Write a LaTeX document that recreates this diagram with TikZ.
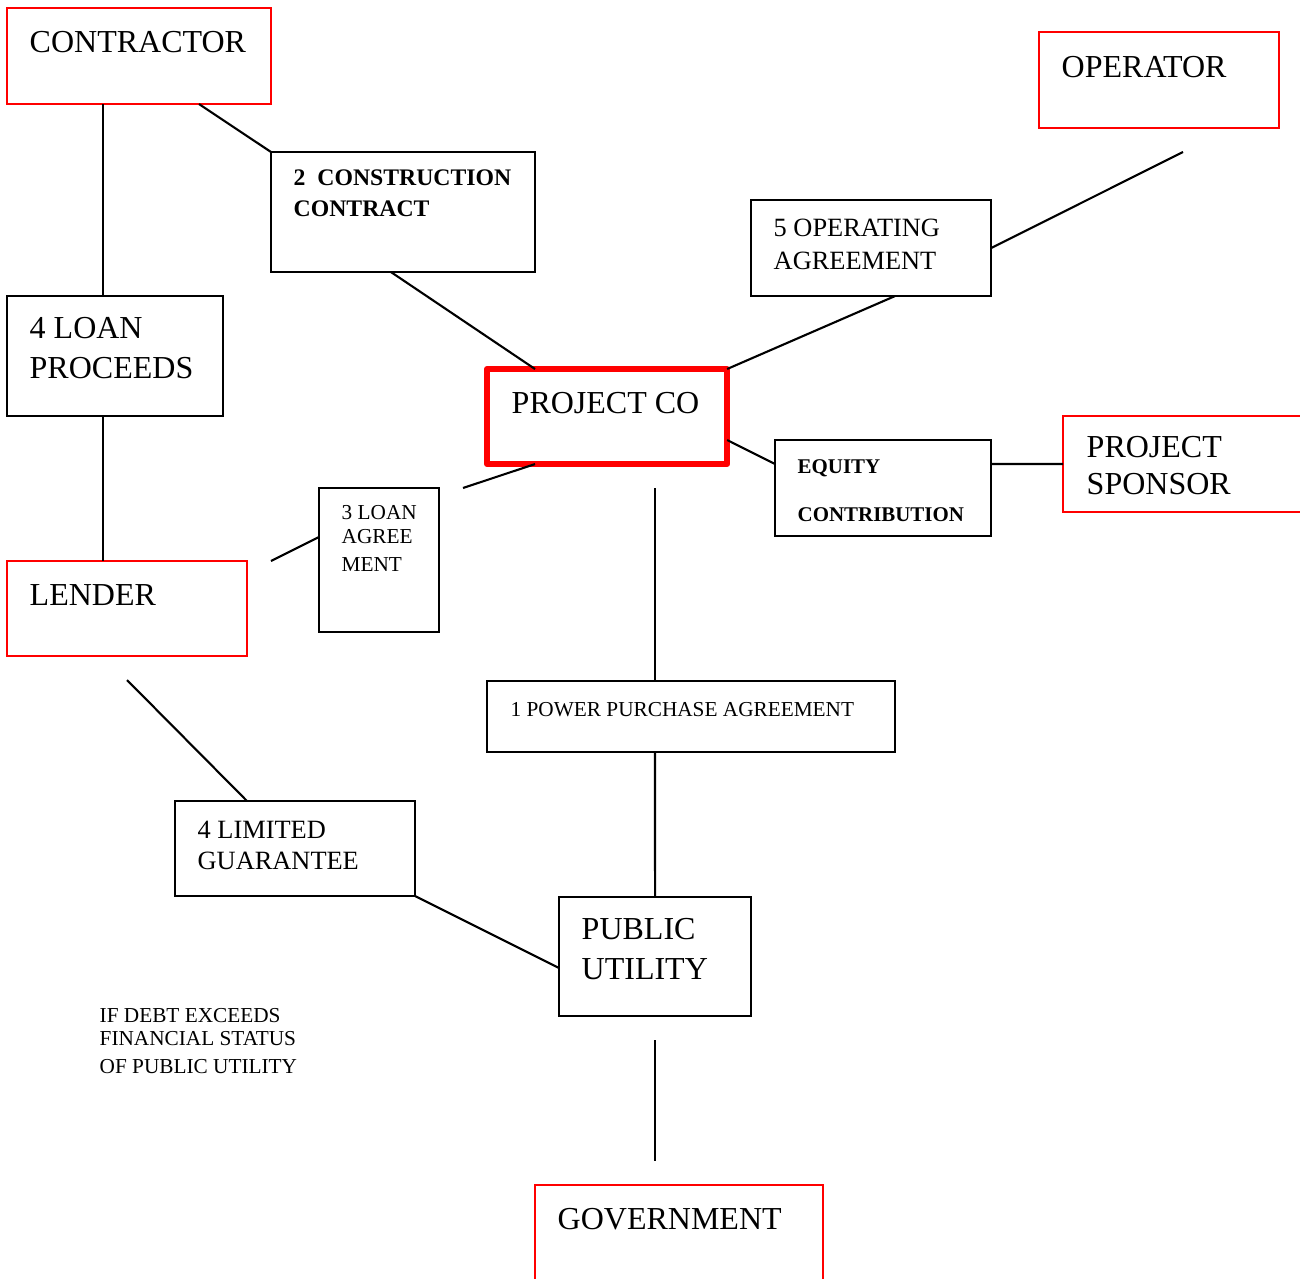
\documentclass[tikz,border=0pt]{standalone}
\usepackage{fontspec}
\setmainfont{Liberation Serif}
\usetikzlibrary{calc}
\definecolor{boxred}{RGB}{255,0,0}
\begin{document}
\begin{tikzpicture}[x=0.01cm,y=-0.01cm,
  redbox/.style={draw=boxred, line width=0.6pt, rectangle, inner sep=0pt, outer sep=0pt, anchor=north west},
  blackbox/.style={draw=black, line width=0.6pt, rectangle, inner sep=0pt, outer sep=0pt, anchor=north west},
  mainbox/.style={draw=boxred, line width=1.7pt, line join=round, rectangle, inner sep=0pt, outer sep=0pt, anchor=north west},
  conn/.style={draw=black, line width=0.6pt},
  txt/.style={anchor=base west, inner sep=0pt},
  big/.style={txt, font=\fontsize{9.1}{11}\selectfont},
  med/.style={txt, font=\fontsize{7.5}{9}\selectfont},
  small/.style={txt, font=\fontsize{6.05}{7}\selectfont},
  boldA/.style={txt, font=\fontsize{6.75}{8}\selectfont\bfseries},
  boldB/.style={txt, font=\fontsize{5.95}{7}\selectfont\bfseries},
]
\useasboundingbox (0,0) rectangle (1300,1278);

% boxes
\node[redbox, minimum width=2.64cm, minimum height=0.96cm] (contractor) at (7,8) {};
\node[redbox, minimum width=2.40cm, minimum height=0.96cm] (operator) at (1039,32) {};
\node[blackbox, minimum width=2.64cm, minimum height=1.20cm] (constr) at (271,152) {};
\node[blackbox, minimum width=2.40cm, minimum height=0.96cm] (opagr) at (751,200) {};
\node[blackbox, minimum width=2.16cm, minimum height=1.20cm] (loanproc) at (7,296) {};
\node[mainbox, minimum width=2.40cm, minimum height=0.95cm] (projco) at (487,369) {};
\node[blackbox, minimum width=2.16cm, minimum height=0.96cm] (equity) at (775,440) {};
\node[redbox, minimum width=2.60cm, minimum height=0.96cm] (sponsor) at (1063,416) {};
\node[blackbox, minimum width=1.20cm, minimum height=1.44cm] (loanagr) at (319,488) {};
\node[redbox, minimum width=2.40cm, minimum height=0.95cm] (lender) at (7,561) {};
\node[blackbox, minimum width=4.08cm, minimum height=0.71cm] (ppa) at (487,681) {};
\node[blackbox, minimum width=2.40cm, minimum height=0.95cm] (limguar) at (175,801) {};
\node[blackbox, minimum width=1.92cm, minimum height=1.19cm] (pubut) at (559,897) {};
\node[redbox, minimum width=2.88cm, minimum height=1.20cm] (gov) at (535,1185) {};

% free ends
\coordinate (opfree) at (1183,152);
\coordinate (pcfree) at (463,488);
\coordinate (lafree) at (271,561);
\coordinate (ppafree) at (655,488);
\coordinate (lgfree) at (127,680);
\coordinate (govtop) at (655,1040);
\coordinate (govbot) at (655,1161);

% connectors
\draw[conn] ($(contractor.south west)+(96,0)$) -- ($(loanproc.north west)+(96,0)$);
\draw[conn] ($(loanproc.south west)+(96,0)$) -- ($(lender.north west)+(96,0)$);
\draw[conn] ($(contractor.south west)+(192,0)$) -- (constr.north west);
\draw[conn] ($(constr.south west)+(120,0)$) -- ($(projco.north west)+(48,0)$);
\draw[conn] (projco.north east) -- ($(opagr.south west)+(144,0)$);
\draw[conn] (opagr.east) -- (opfree);
\draw[conn] ($(projco.north east)+(0,71)$) -- ($(equity.north west)+(0,24)$);
\draw[conn] ($(equity.north east)+(0,24)$) -- (sponsor.west);
\draw[conn] ($(projco.south west)+(48,0)$) -- (pcfree);
\draw[conn] ($(loanagr.north west)+(0,49)$) -- (lafree);
\draw[conn] (ppafree) -- ($(ppa.north west)+(168,0)$);
\draw[conn] ($(ppa.south west)+(168,0)$) -- (pubut.north);
\draw[conn] (lgfree) -- ($(limguar.north west)+(72,0)$);
\draw[conn] (limguar.south east) -- ($(pubut.north west)+(0,71)$);
\draw[conn] (govtop) -- (govbot);

% texts
\node[big] (tcontractor) at ($(contractor.north west)+(22,44)$) {CONTRACTOR};
\node[big] (toperator) at ($(operator.north west)+(22,45)$) {OPERATOR};
\node[boldA] (tconstr1) at ($(constr.north west)+(22,33)$) {2\ \ CONSTRUCTION};
\node[boldA] (tconstr2) at ($(constr.north west)+(22,64)$) {CONTRACT};
\node[med] (topagr1) at ($(opagr.north west)+(22,36)$) {5 OPERATING};
\node[med] (topagr2) at ($(opagr.north west)+(22,69)$) {AGREEMENT};
\node[big] (tloanproc1) at ($(loanproc.north west)+(22,42)$) {4 LOAN};
\node[big] (tloanproc2) at ($(loanproc.north west)+(22,82)$) {PROCEEDS};
\node[big] (tprojco) at ($(projco.north west)+(24,44)$) {PROJECT CO};
\node[boldB] (tequity1) at ($(equity.north west)+(22,33)$) {EQUITY};
\node[boldB] (tequity2) at ($(equity.north west)+(22,81)$) {CONTRIBUTION};
\node[big] (tsponsor1) at ($(sponsor.north west)+(23,41)$) {PROJECT};
\node[big] (tsponsor2) at ($(sponsor.north west)+(23,78)$) {SPONSOR};
\node[small] (tloanagr1) at ($(loanagr.north west)+(22,31)$) {3 LOAN};
\node[small] (tloanagr2) at ($(loanagr.north west)+(22,55)$) {AGREE};
\node[small] (tloanagr3) at ($(loanagr.north west)+(22,83)$) {MENT};
\node[big] (tlender) at ($(lender.north west)+(22,44)$) {LENDER};
\node[small] (tppa) at ($(ppa.north west)+(23,35)$) {1 POWER PURCHASE AGREEMENT};
\node[med] (tlimguar1) at ($(limguar.north west)+(22,37)$) {4 LIMITED};
\node[med] (tlimguar2) at ($(limguar.north west)+(22,68)$) {GUARANTEE};
\node[big] (tpubut1) at ($(pubut.north west)+(22,42)$) {PUBLIC};
\node[big] (tpubut2) at ($(pubut.north west)+(22,82)$) {UTILITY};
\node[small] (tdebt1) at (99,1022) {IF DEBT EXCEEDS};
\node[small] (tdebt2) at (99,1045) {FINANCIAL STATUS};
\node[small] (tdebt3) at (99,1073) {OF PUBLIC UTILITY};
\node[big] (tgov) at ($(gov.north west)+(22,44)$) {GOVERNMENT};
\end{tikzpicture}
\end{document}
